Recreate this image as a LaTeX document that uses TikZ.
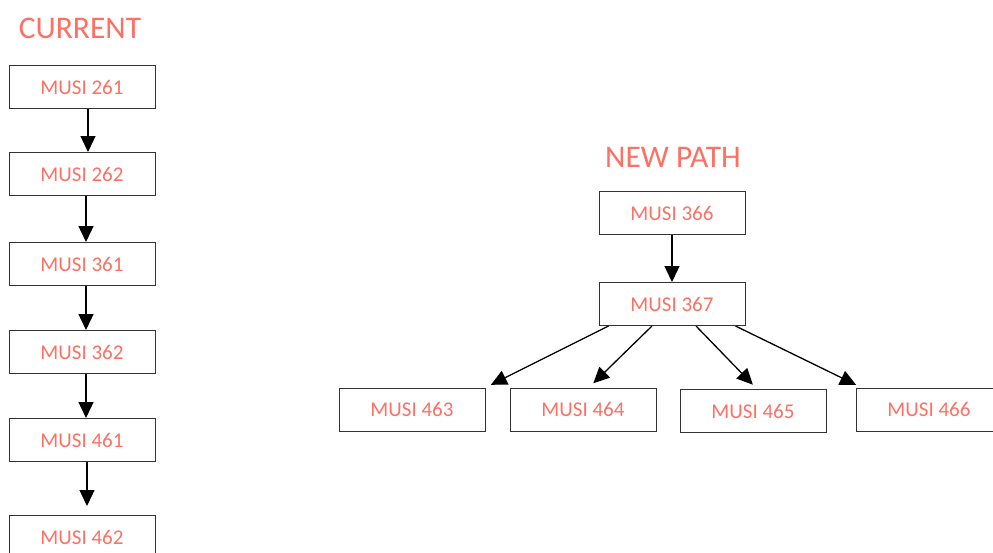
\documentclass[tikz,border=0pt]{standalone}
\usepackage{fontspec}
\setmainfont{Carlito}
\usepackage{tikz}
\usetikzlibrary{positioning,arrows.meta,calc}

\definecolor{salmon}{RGB}{255,112,100}

\tikzset{
  course/.style={draw=black!80, line width=1pt, fill=white, minimum width=146pt,
    minimum height=43pt, inner sep=0pt, text=salmon,
    font=\fontsize{21}{24}\selectfont},
  heading/.style={text=salmon, font=\fontsize{31.5}{36}\selectfont},
  arr/.style={line width=1.3pt, -{Triangle[width=15pt,length=16pt]}},
}

\begin{document}
\begin{tikzpicture}[x=1pt,y=-1pt]
  \useasboundingbox (0,0) rectangle (993,552);

  % current sequence
  \node[heading] (cur) at (80,28) {CURRENT};
  \node[course] (c261) at (82,87) {MUSI 261};
  \node[course] (c262) [below=43pt of c261] {MUSI 262};
  \node[course] (c361) [below=46pt of c262] {MUSI 361};
  \node[course] (c362) [below=44pt of c361] {MUSI 362};
  \node[course] (c461) [below=44pt of c362] {MUSI 461};
  \node[course] (c462) [below=53pt of c461] {MUSI 462};

  \path[arr] ([xshift=6pt]c261.south) edge ([xshift=6pt]c262.north);
  \path[arr] ([xshift=4pt]c262.south) edge ([xshift=4pt]c361.north);
  \path[arr] ([xshift=4pt]c361.south) edge ([xshift=4pt]c362.north);
  \path[arr] ([xshift=4pt]c362.south) edge ([xshift=4pt]c461.north);
  \path[arr, shorten >=9pt] ([xshift=5pt]c461.south) edge ([xshift=5pt]c462.north);

  % new path
  \node[heading] (new) at (673,157) {NEW PATH};
  \node[course] (n366) at (672,213) {MUSI 366};
  \node[course] (n367) [below=47pt of n366] {MUSI 367};
  \node[course] (n463) at (412,409.5) {MUSI 463};
  \node[course] (n464) at (583,409.5) {MUSI 464};
  \node[course] (n465) at (753,411) {MUSI 465};
  \node[course] (n466) at (929,409.5) {MUSI 466};

  \path[arr] (n366) edge (n367);
  \path[arr, shorten >=6pt] ([xshift=10pt]n367.south west) edge (n463.north east);
  \path[arr, shorten >=6pt] ([xshift=-20pt]n367.south) edge ([xshift=6pt]n464.north);
  \path[arr, shorten >=6pt] ([xshift=24pt]n367.south) edge ([xshift=4pt]n465.north);
  \path[arr, shorten >=6pt] ([xshift=-10pt]n367.south east) edge ([xshift=6pt]n466.north west);

\end{tikzpicture}
\end{document}
